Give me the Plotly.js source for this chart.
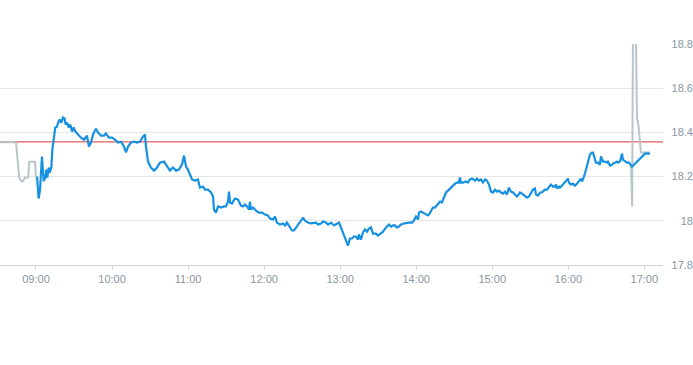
<!DOCTYPE html>
<html>
<head>
<meta charset="utf-8">
<script src="https://cdn.plot.ly/plotly-3.0.1.min.js"></script>
<style>html,body{margin:0;padding:0;background:#fff;}#chart{width:693px;height:365px;}</style>
</head>
<body>
<div id="chart"></div>
<script>
// Session date (day is irrelevant, only clock time is shown)
const sessionDay = '2024-01-02';
const sessionOpen = '09:00';

// Minutes after 09:00 and prices, regular session (blue)
const sessionMinutes = [
0.8,2.1,3.2,3.9,4.7,6.1,6.9,7.3,8.1,8.9,
10.0,10.8,12.1,12.9,14.2,15.2,16.6,17.4,18.7,20.0,
21.3,22.6,23.4,24.7,25.8,27.1,28.4,29.7,31.0,33.1,
35.5,37.9,40.2,41.8,43.4,45.0,47.3,48.9,51.3,53.7,
55.2,57.6,60.0,62.3,64.7,67.1,69.4,71.0,72.6,75.0,
77.3,79.7,82.1,84.4,86.0,86.8,88.4,90.7,93.1,95.5,
97.8,101.0,103.4,105.7,108.1,110.5,112.8,115.2,116.8,118.4,
119.9,121.5,123.1,125.5,127.8,129.4,131.8,133.3,135.7,138.1,
139.7,140.4,142.0,143.6,146.0,148.3,149.9,151.5,152.3,153.1,
154.6,157.0,159.4,161.7,163.3,164.9,166.5,168.1,168.8,169.6,
171.2,173.6,175.9,178.3,180.7,183.0,184.6,187.0,188.6,190.1,
192.5,194.9,196.5,198.0,200.4,202.0,203.6,205.1,207.5,209.9,
210.7,212.2,214.6,217.0,219.3,220.9,222.5,224.9,226.4,228.8,
230.4,232.8,235.1,236.7,239.1,240.6,242.2,243.8,245.4,246.2,
247.7,249.3,250.9,252.5,254.1,254.8,256.4,258.0,259.6,261.2,
262.7,264.3,265.9,268.3,269.8,272.2,273.8,276.2,278.5,280.1,
281.7,283.3,284.8,286.4,288.0,290.4,292.7,294.3,296.7,298.2,
299.8,301.4,302.2,303.8,305.3,306.9,309.3,310.1,311.7,313.2,
314.8,317.2,318.8,320.3,321.9,323.5,325.9,327.4,329.0,330.6,
332.2,333.7,334.5,335.3,336.9,339.3,340.8,342.4,344.0,346.4,
347.9,349.5,351.1,352.7,354.3,355.8,357.4,359.0,360.6,362.2,
363.7,365.3,366.9,368.5,370.0,371.6,373.2,374.8,376.4,377.9,
379.5,380.3,381.9,383.5,385.8,387.4,389.0,390.6,392.1,393.7,
394.5,396.1,397.7,399.2,401.6,403.2,404.8,406.3,407.9,409.5,
410.3,411.1,412.7,413.4,415.8,418.2,419.7,420.5,422.1,423.7,
425.3,426.8,428.4,430.0,430.8,432.4,434.0,435.5,437.1,438.7,
439.5,441.1,441.8,443.4,445.0,445.8,447.4,448.9,450.5,451.3,
452.9,454.5,455.3,456.8,458.4,459.2,460.8,461.6,462.4,463.1,
464.7,466.3,467.9,469.5,470.2,471.8,473.4,475.0,477.3,478.9,
480.5,482.1,484.4
];
const sessionPrices = [
18.200,18.101,18.141,18.209,18.291,18.178,18.209,18.187,18.232,18.196,
18.241,18.218,18.241,18.322,18.381,18.422,18.426,18.444,18.458,18.444,
18.467,18.462,18.435,18.444,18.422,18.435,18.404,18.422,18.404,18.390,
18.376,18.367,18.385,18.336,18.354,18.390,18.417,18.399,18.385,18.385,
18.395,18.376,18.376,18.367,18.354,18.358,18.336,18.309,18.336,18.354,
18.358,18.354,18.358,18.381,18.390,18.336,18.268,18.241,18.227,18.241,
18.263,18.268,18.245,18.227,18.241,18.227,18.232,18.254,18.295,18.245,
18.232,18.209,18.187,18.182,18.187,18.150,18.155,18.141,18.141,18.128,
18.110,18.051,18.037,18.065,18.060,18.065,18.065,18.087,18.132,18.083,
18.078,18.101,18.096,18.069,18.065,18.074,18.065,18.051,18.087,18.051,
18.060,18.046,18.037,18.037,18.028,18.024,18.010,18.006,18.019,17.992,
17.983,17.988,17.979,17.992,17.970,17.956,17.956,17.970,17.988,18.006,
18.015,18.001,17.992,17.988,17.992,17.992,17.983,17.988,17.997,17.992,
17.983,17.992,17.979,17.983,17.992,17.970,17.947,17.915,17.893,17.888,
17.920,17.920,17.929,17.929,17.915,17.938,17.915,17.947,17.961,17.951,
17.965,17.970,17.942,17.942,17.933,17.942,17.951,17.970,17.983,17.974,
17.979,17.979,17.970,17.974,17.983,17.988,17.992,17.992,17.992,18.001,
18.019,18.006,18.037,18.042,18.037,18.033,18.024,18.028,18.042,18.060,
18.060,18.074,18.087,18.083,18.105,18.128,18.141,18.150,18.155,18.168,
18.173,18.173,18.196,18.173,18.173,18.178,18.173,18.187,18.191,18.182,
18.191,18.182,18.187,18.173,18.187,18.182,18.164,18.132,18.128,18.141,
18.132,18.137,18.128,18.123,18.132,18.119,18.150,18.132,18.128,18.119,
18.110,18.114,18.128,18.123,18.110,18.105,18.110,18.123,18.141,18.146,
18.119,18.114,18.128,18.128,18.141,18.141,18.155,18.164,18.155,18.155,
18.164,18.146,18.155,18.150,18.164,18.178,18.191,18.173,18.164,18.168,
18.159,18.168,18.182,18.191,18.178,18.200,18.232,18.268,18.300,18.309,
18.309,18.277,18.263,18.263,18.254,18.291,18.268,18.268,18.263,18.268,
18.250,18.254,18.259,18.263,18.268,18.263,18.268,18.286,18.304,18.277,
18.268,18.263,18.263,18.250,18.245,18.254,18.263,18.272,18.286,18.295,
18.304,18.304,18.304
];

// Pre-market (gray)
const preMinutes = [-28.8,-15.8,-13.2,-11.8,-10.3,-8.7,-6.1,-5.3,-0.8,0.0,0.8];
const prePrices  = [18.355,18.355,18.196,18.179,18.179,18.196,18.196,18.267,18.267,18.196,18.200];

// Post-market (gray)
const postMinutes = [469.5,470.4,471.0,473.4,474.2,475.4,477.3,484.4];
const postPrices  = [18.250,18.065,18.820,18.820,18.467,18.431,18.309,18.309];

// Previous close
const prevClose = 18.357;

// Axis ticks
const yTicks = [17.8, 18, 18.2, 18.4, 18.6, 18.8];
const yTickText = ['17.8', '18', '18.2', '18.4', '18.6', '18.8'];
const yRange = [17.8, 18.8];
const xRange = [sessionDay + ' 08:31:36', sessionDay + ' 17:14:44'];

const [oh, om] = sessionOpen.split(':').map(Number);
const [yy, mo, dd] = sessionDay.split('-').map(Number);
const openMs = Date.UTC(yy, mo - 1, dd, oh, om, 0);
const toX = arr => arr.map(m => openMs + m * 60000);

const labelFont = {family: 'Liberation Sans, Arial, sans-serif', size: 11, color: '#8a96a2'};

const traces = [
  {x: toX(preMinutes), y: prePrices, type: 'scatter', mode: 'lines',
   line: {color: '#b9c5cd', width: 2}, hoverinfo: 'skip', xaxis: 'x', yaxis: 'y'},
  {x: toX(postMinutes), y: postPrices, type: 'scatter', mode: 'lines',
   line: {color: '#b9c5cd', width: 2}, hoverinfo: 'skip', xaxis: 'x', yaxis: 'y'},
  {x: toX(sessionMinutes), y: sessionPrices, type: 'scatter', mode: 'lines',
   line: {color: '#1690e0', width: 2.2}, xaxis: 'x', yaxis: 'y'},
  {x: toX([0]), y: [null], type: 'scatter', mode: 'lines', xaxis: 'x', yaxis: 'y2', hoverinfo: 'skip'}
];

const layout = {
  width: 693, height: 365,
  margin: {l: 0, r: 0, t: 44, b: 100, pad: 0},
  paper_bgcolor: '#ffffff', plot_bgcolor: 'rgba(0,0,0,0)',
  showlegend: false,
  xaxis: {
    type: 'date', domain: [0, 663 / 693], range: xRange,
    tickformat: '%H:%M', dtick: 3600000, tick0: sessionDay + ' ' + sessionOpen,
    showgrid: false, zeroline: false,
    showline: true, linecolor: '#ccd6e0', linewidth: 1,
    ticks: 'outside', ticklen: 4, tickcolor: '#ccd6e0', tickwidth: 1,
    tickfont: labelFont, anchor: 'y'
  },
  yaxis: {
    range: yRange, tickvals: yTicks, ticktext: yTickText,
    showticklabels: false, ticks: '',
    showgrid: true, gridcolor: '#e6e6e6', gridwidth: 1,
    zeroline: false, showline: false, anchor: 'x'
  },
  yaxis2: {
    range: yRange, tickvals: yTicks, ticktext: yTickText,
    overlaying: 'y', anchor: 'free', position: 1, side: 'left',
    ticks: '', showgrid: false, zeroline: false, showline: false,
    tickfont: labelFont, automargin: false
  },
  shapes: [{
    type: 'line', xref: 'x domain', yref: 'y', x0: 0, x1: 1, layer: 'below',
    y0: prevClose, y1: prevClose, line: {color: '#d9363a', width: 1}
  }]
};

Plotly.newPlot('chart', traces, layout, {displayModeBar: false, staticPlot: true});
</script>
</body>
</html>
